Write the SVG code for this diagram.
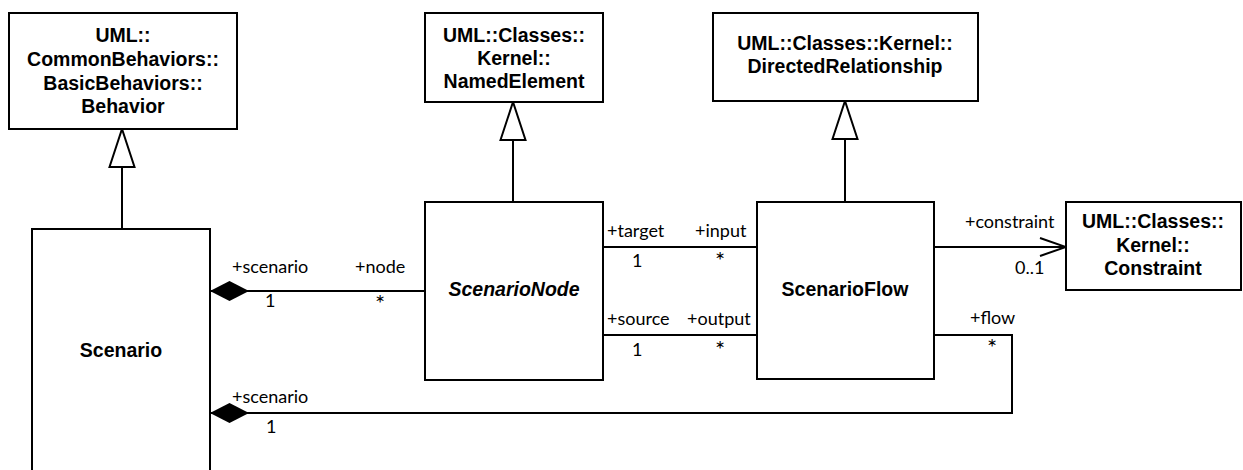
<svg xmlns="http://www.w3.org/2000/svg" width="1243" height="470" viewBox="0 0 1243 470">
<style>
.box{fill:#fff;stroke:#000;stroke-width:2}
.name{font-family:"Liberation Sans",Arial,sans-serif;font-weight:bold;font-size:19.5px;text-anchor:middle;fill:#000}
.it{font-style:italic}
.lbl{font-family:Lato,"Open Sans",sans-serif;font-size:18px;fill:#000}
.star{font-family:Lato,"Open Sans",sans-serif;font-size:24px;fill:#000}
.ln{fill:none;stroke:#000;stroke-width:2}
</style>
<defs>
<marker id="gen" markerUnits="userSpaceOnUse" viewBox="-1 -15 42 30" markerWidth="42" markerHeight="30" refX="39" refY="0" orient="auto">
<path d="M1,-12.5 L39,0 L1,12.5 Z" fill="#fff" stroke="#000" stroke-width="2"/>
</marker>
<marker id="comp" markerUnits="userSpaceOnUse" viewBox="-1 -12 42 24" markerWidth="42" markerHeight="24" refX="0" refY="0" orient="auto">
<path d="M0,0 L19.5,-10 L39,0 L19.5,10 Z" fill="#000"/>
</marker>
<marker id="open" markerUnits="userSpaceOnUse" viewBox="-30 -12 32 24" markerWidth="32" markerHeight="24" refX="0" refY="0" orient="auto">
<path d="M-26,-9 L0,0 L-26,9" fill="none" stroke="#000" stroke-width="2"/>
</marker>
</defs>

<g id="connectors">
<path class="ln" d="M122,229 V129" marker-end="url(#gen)"/>
<path class="ln" d="M513,202 V102" marker-end="url(#gen)"/>
<path class="ln" d="M845,202 V101" marker-end="url(#gen)"/>
<path class="ln" d="M210,291 H425" marker-start="url(#comp)"/>
<path class="ln" d="M210,413 H1012 V335 H934" marker-start="url(#comp)"/>
<path class="ln" d="M603,247 H757"/>
<path class="ln" d="M603,335 H757"/>
<path class="ln" d="M934,247 H1066" marker-end="url(#open)"/>
<text class="lbl" x="232" y="273">+scenario</text>
<text class="lbl" x="355" y="273">+node</text>
<text class="lbl" x="265" y="307">1</text>
<text class="star" x="375" y="312">*</text>
<text class="lbl" x="232" y="403">+scenario</text>
<text class="lbl" x="266" y="433">1</text>
<text class="lbl" x="607" y="237">+target</text>
<text class="lbl" x="695" y="237">+input</text>
<text class="lbl" x="632" y="267">1</text>
<text class="star" x="715" y="269">*</text>
<text class="lbl" x="607" y="325">+source</text>
<text class="lbl" x="687" y="325">+output</text>
<text class="lbl" x="632" y="356">1</text>
<text class="star" x="715" y="358">*</text>
<text class="lbl" x="965" y="228">+constraint</text>
<text class="lbl" x="1015" y="274">0..1</text>
<text class="lbl" x="970" y="324">+flow</text>
<text class="star" x="987" y="356">*</text>
</g>

<g id="behavior">
<rect class="box" x="9" y="13" width="228" height="116"/>
<text class="name" x="123" y="42">UML::</text>
<text class="name" x="123" y="66">CommonBehaviors::</text>
<text class="name" x="123" y="90">BasicBehaviors::</text>
<text class="name" x="123" y="113">Behavior</text>
</g>

<g id="namedElement">
<rect class="box" x="425" y="13" width="178" height="89"/>
<text class="name" x="514" y="42">UML::Classes::</text>
<text class="name" x="514" y="65">Kernel::</text>
<text class="name" x="514" y="88">NamedElement</text>
</g>

<g id="directedRelationship">
<rect class="box" x="713" y="13" width="265" height="88"/>
<text class="name" x="845" y="50">UML::Classes::Kernel::</text>
<text class="name" x="845" y="73">DirectedRelationship</text>
</g>

<g id="scenario">
<rect class="box" x="32" y="229" width="178" height="260"/>
<text class="name" x="121" y="357">Scenario</text>
</g>

<g id="scenarioNode">
<rect class="box" x="425" y="202" width="178" height="178"/>
<text class="name it" x="514" y="296">ScenarioNode</text>
</g>

<g id="scenarioFlow">
<rect class="box" x="757" y="202" width="177" height="177"/>
<text class="name" x="845" y="296">ScenarioFlow</text>
</g>

<g id="constraint">
<rect class="box" x="1066" y="202" width="175" height="88"/>
<text class="name" x="1153" y="228">UML::Classes::</text>
<text class="name" x="1153" y="252">Kernel::</text>
<text class="name" x="1153" y="275">Constraint</text>
</g>
</svg>
